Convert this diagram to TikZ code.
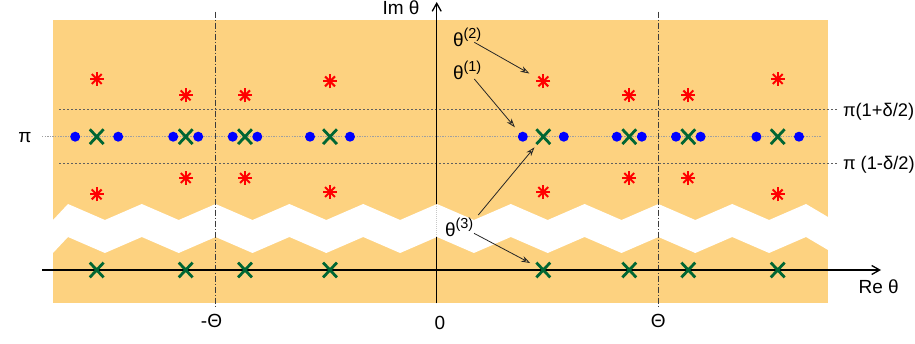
\documentclass[tikz,border=0pt]{standalone}
\usepackage{fontspec}
\setmainfont{Liberation Sans}
\usetikzlibrary{arrows.meta,shapes.misc}
\definecolor{bgorange}{RGB}{253,210,128}
\definecolor{mkgreen}{RGB}{0,102,51}
\definecolor{dashgray}{RGB}{95,95,95}
\definecolor{lightdot}{RGB}{160,160,160}
\definecolor{thetaline}{RGB}{60,60,60}
\begin{document}
\begin{tikzpicture}[x=1pt,y=-1pt,
  font=\fontsize{19}{22}\selectfont,
  txt/.style={inner sep=0pt, outer sep=0pt},
  edgetxt/.style={inner sep=0pt, outer sep=0pt, font=\fontsize{18.3}{21}\selectfont},
  dotm/.style={circle, fill=blue, inner sep=0pt, minimum size=10pt},
  crossm/.style={cross out, draw=mkgreen, line width=2.8pt, inner sep=0pt, minimum width=11pt, minimum height=12pt},
  astm/.style={inner sep=0pt, minimum size=18pt,
    path picture={\foreach \a in {0,45,90,135}{
      \draw[red, line width=2pt, shift={(path picture bounding box.center)}] (\a:7) -- (\a+180:7);}}},
  axisline/.style={line width=1.5pt, black},
  axistip/.style={-{Straight Barb[length=8pt,width=9pt,line width=1.3pt]}},
  thetadash/.style={thetaline, line width=1pt, dash pattern=on 6pt off 2pt on 1pt off 2pt},
  bounddash/.style={dashgray, line width=1pt, dash pattern=on 2pt off 2pt},
  pidot/.style={lightdot, line width=1pt, dash pattern=on 1.3pt off 1.3pt},
  lblarrow/.style={black!85, line width=0.8pt, -{Stealth[open,length=9pt,width=6pt]}},
]
\useasboundingbox (0,0) rectangle (915,344);

% background
\fill[bgorange] (53,20) rectangle (828,303.3);
% white zigzag band
\fill[white] (53,220) -- (68,204) -- (104.9,220) -- (141.8,204) -- (178.7,220) -- (215.6,204) -- (252.5,220) -- (289.4,204) -- (326.3,220) -- (363.2,204) -- (400.1,220) -- (437,204) -- (473.9,220) -- (510.8,204) -- (547.7,220) -- (584.6,204) -- (621.5,220) -- (658.4,204) -- (695.3,220) -- (732.2,204) -- (769.1,220) -- (806,204) -- (828,217)
 -- (828,250) -- (806,237) -- (769.1,253) -- (732.2,237) -- (695.3,253) -- (658.4,237) -- (621.5,253) -- (584.6,237) -- (547.7,253) -- (510.8,237) -- (473.9,253) -- (437,237) -- (400.1,253) -- (363.2,237) -- (326.3,253) -- (289.4,237) -- (252.5,253) -- (215.6,237) -- (178.7,253) -- (141.8,237) -- (104.9,253) -- (68,237) -- (53,253) -- cycle;

% reference lines
\coordinate (pil) at (42,136.7);
\coordinate (pir) at (821.7,136.7);
\coordinate (upl) at (59,110);
\coordinate (upr) at (838,110);
\coordinate (lol) at (59,163.3);
\coordinate (lor) at (838,163.3);
\draw[pidot] (pil) -- (pir);
\draw[bounddash] (upl) -- (upr);
\draw[bounddash] (lol) -- (lor);

\coordinate (mtt) at (215.7,11.7);
\coordinate (mtb) at (215.7,306.7);
\coordinate (ptt) at (658.3,11.7);
\coordinate (ptb) at (658.3,306.7);
\draw[thetadash] (mtt) -- (mtb);
\draw[thetadash] (ptt) -- (ptb);

% axes
\coordinate (reL) at (42,270);
\coordinate (reR) at (881,270);
\coordinate (imB) at (436.7,303.3);
\coordinate (imG1) at (436.7,237);
\coordinate (imG2) at (436.7,204);
\coordinate (imT) at (436.7,2);
\draw[axisline, axistip] (reL) -- (reR);
\draw[axisline] (imB) -- (imG1);
\draw[black!22, line width=1pt, dash pattern=on 1pt off 1pt] (imG1) -- (imG2);
\draw[axisline, axistip] (imG2) -- (imT);

% markers
\foreach \x/\d/\s [count=\i] in {96.7/21.5/57.7, 185.7/12.5/41.3, 245/12.3/41.3, 330/20/55.3,
                                  543.3/20.5/55.3, 629.3/12.5/41.3, 688.3/12.3/41.3, 777.7/21.3/57.7}{
  \node[dotm] (dl\i) at (\x-\d,136.7) {};
  \node[dotm] (dr\i) at (\x+\d,136.7) {};
  \node[crossm] (cp\i) at (\x,136.7) {};
  \node[crossm] (cr\i) at (\x,270) {};
  \node[astm] (au\i) at (\x,136.7-\s) {};
  \node[astm] (ad\i) at (\x,136.7+\s) {};
}

% labels
\node[txt, anchor=base] (imlbl) at (401,15) {Im θ};
\node[txt, anchor=base] (relbl) at (878.7,293.3) {Re θ};
\node[txt, anchor=base] (pilbl) at (25,143) {π};
\node[txt, anchor=base] (mthlbl) at (211.5,327) {-Θ};
\node[txt, anchor=base] (zlbl) at (440,330) {0};
\node[txt, anchor=base] (thlbl) at (658.3,327) {Θ};
\node[edgetxt, anchor=base west] (uplbl) at (843,116.5) {π(1+δ/2)};
\node[edgetxt, anchor=base west] (lolbl) at (843,169.8) {π (1-δ/2)};
\node[txt, anchor=base west] (l2) at (453,46.7) {θ\raisebox{8pt}{\fontsize{14.5}{16}\selectfont(2)}};
\node[txt, anchor=base west] (l1) at (453,80) {θ\raisebox{8pt}{\fontsize{14.5}{16}\selectfont(1)}};
\node[txt, anchor=base west] (l3) at (445,236.7) {θ\raisebox{8pt}{\fontsize{14.5}{16}\selectfont(3)}};

% label arrows
\draw[lblarrow, shorten >=16pt] ([shift={(21.3,-4.4)}]l2.base west) -- (au5.center);
\draw[lblarrow, shorten >=12.3pt] ([shift={(21.3,-1)}]l1.base west) -- (dl5.center);
\draw[lblarrow, shorten >=13.8pt] ([shift={(33.3,-21.7)}]l3.base west) -- (cp5.center);
\draw[lblarrow, shorten >=14.8pt] ([shift={(29,-3.4)}]l3.base west) -- (cr5.center);
\end{tikzpicture}
\end{document}
